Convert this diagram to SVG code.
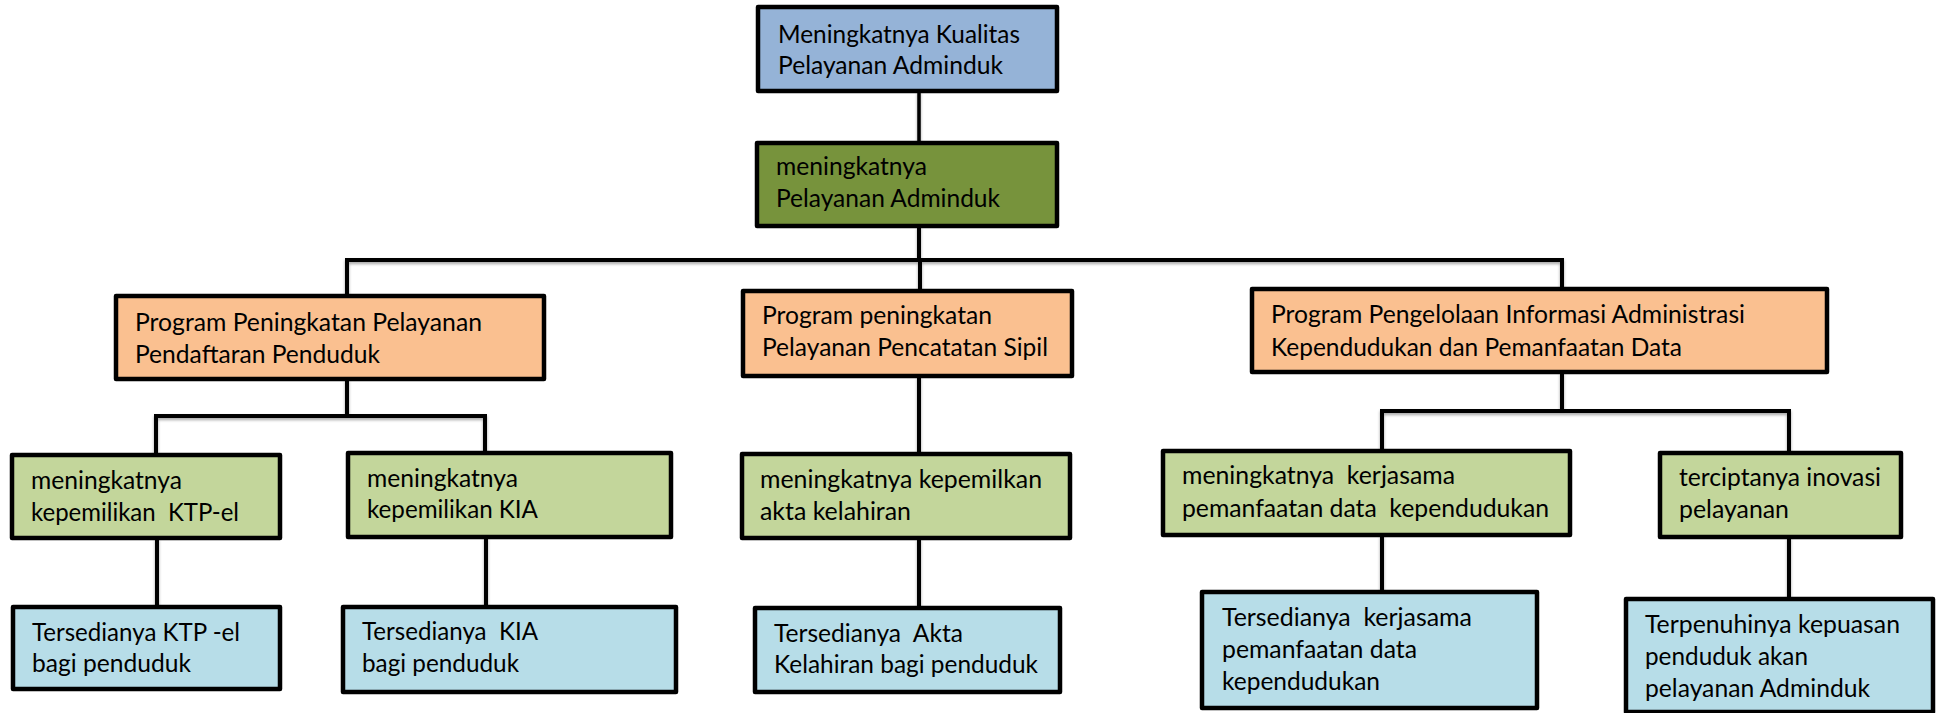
<svg xmlns="http://www.w3.org/2000/svg" width="1937" height="713" viewBox="0 0 1937 713">
<defs>
<filter id="sh" x="-5%" y="-50%" width="110%" height="200%">
<feDropShadow dx="0" dy="2" stdDeviation="1.5" flood-color="#000" flood-opacity="0.35"/>
</filter>
<style>
.box{stroke:#000;stroke-width:4.5;stroke-linejoin:round}
.b1{fill:#95B3D7}.b2{fill:#77933C}.b3{fill:#FAC090}.b4{fill:#C3D69B}.b5{fill:#B7DDE8}
text{font-family:Lato,"Open Sans","Liberation Sans",sans-serif;font-size:25.5px;fill:#000;white-space:pre}
.c{fill:none;stroke:#000;stroke-width:4;stroke-linejoin:miter}
</style>
</defs>
<rect width="1937" height="713" fill="#fff"/>
<g id="connectors" filter="url(#sh)">
<path class="c" d="M919 91V143" style="stroke-width:3.5"/>
<path class="c" d="M919 226V260M347 296V260H1562V289M920 260V291"/>
<path class="c" d="M347 379V416M156 455V416H485V453"/>
<path class="c" d="M919 376V454M919 538V608"/>
<path class="c" d="M1562 372V411M1382 451V411H1789V453"/>
<path class="c" d="M157 538V607M486 537V607M1382 535V592M1789 537V599"/>
</g>
<g id="top"><rect class="box b1" x="758" y="7" width="299" height="84"/>
<text x="778" y="43" textLength="242" lengthAdjust="spacingAndGlyphs">Meningkatnya Kualitas</text>
<text x="778" y="74" textLength="225" lengthAdjust="spacingAndGlyphs">Pelayanan Adminduk</text></g>
<g id="goal"><rect class="box b2" x="757" y="143" width="300" height="83"/>
<text x="776" y="175" textLength="151" lengthAdjust="spacingAndGlyphs">meningkatnya</text>
<text x="776" y="207" textLength="224" lengthAdjust="spacingAndGlyphs">Pelayanan Adminduk</text></g>
<g id="prog1"><rect class="box b3" x="116" y="296" width="428" height="83"/>
<text x="135" y="331" textLength="347" lengthAdjust="spacingAndGlyphs">Program Peningkatan Pelayanan</text>
<text x="135" y="363" textLength="245" lengthAdjust="spacingAndGlyphs">Pendaftaran Penduduk</text></g>
<g id="prog2"><rect class="box b3" x="743" y="291" width="329" height="85"/>
<text x="762" y="324" textLength="230" lengthAdjust="spacingAndGlyphs">Program peningkatan</text>
<text x="762" y="356" textLength="286" lengthAdjust="spacingAndGlyphs">Pelayanan Pencatatan Sipil</text></g>
<g id="prog3"><rect class="box b3" x="1252" y="289" width="575" height="83"/>
<text x="1271" y="323" textLength="474" lengthAdjust="spacingAndGlyphs">Program Pengelolaan Informasi Administrasi</text>
<text x="1271" y="356" textLength="411" lengthAdjust="spacingAndGlyphs">Kependudukan dan Pemanfaatan Data</text></g>
<g id="out1"><rect class="box b4" x="12" y="455" width="268" height="83"/>
<text x="31" y="489" textLength="151" lengthAdjust="spacingAndGlyphs">meningkatnya</text>
<text x="31" y="521" textLength="208" lengthAdjust="spacingAndGlyphs">kepemilikan  KTP-el</text></g>
<g id="out2"><rect class="box b4" x="348" y="453" width="323" height="84"/>
<text x="367" y="487" textLength="151" lengthAdjust="spacingAndGlyphs">meningkatnya</text>
<text x="367" y="518" textLength="171" lengthAdjust="spacingAndGlyphs">kepemilikan KIA</text></g>
<g id="out3"><rect class="box b4" x="742" y="454" width="328" height="84"/>
<text x="760" y="488" textLength="282" lengthAdjust="spacingAndGlyphs">meningkatnya kepemilkan</text>
<text x="760" y="520" textLength="151" lengthAdjust="spacingAndGlyphs">akta kelahiran</text></g>
<g id="out4"><rect class="box b4" x="1163" y="451" width="407" height="84"/>
<text x="1182" y="484" textLength="273" lengthAdjust="spacingAndGlyphs">meningkatnya  kerjasama</text>
<text x="1182" y="517" textLength="367" lengthAdjust="spacingAndGlyphs">pemanfaatan data  kependudukan</text></g>
<g id="out5"><rect class="box b4" x="1660" y="453" width="241" height="84"/>
<text x="1679" y="486" textLength="202" lengthAdjust="spacingAndGlyphs">terciptanya inovasi</text>
<text x="1679" y="518" textLength="110" lengthAdjust="spacingAndGlyphs">pelayanan</text></g>
<g id="res1"><rect class="box b5" x="13" y="607" width="267" height="82"/>
<text x="32" y="641" textLength="208" lengthAdjust="spacingAndGlyphs">Tersedianya KTP -el</text>
<text x="32" y="672" textLength="159" lengthAdjust="spacingAndGlyphs">bagi penduduk</text></g>
<g id="res2"><rect class="box b5" x="343" y="607" width="333" height="85"/>
<text x="362" y="640" textLength="176" lengthAdjust="spacingAndGlyphs">Tersedianya  KIA</text>
<text x="362" y="672" textLength="157" lengthAdjust="spacingAndGlyphs">bagi penduduk</text></g>
<g id="res3"><rect class="box b5" x="755" y="608" width="305" height="84"/>
<text x="774" y="642" textLength="189" lengthAdjust="spacingAndGlyphs">Tersedianya  Akta</text>
<text x="774" y="673" textLength="264" lengthAdjust="spacingAndGlyphs">Kelahiran bagi penduduk</text></g>
<g id="res4"><rect class="box b5" x="1202" y="592" width="335" height="116"/>
<text x="1222" y="626" textLength="250" lengthAdjust="spacingAndGlyphs">Tersedianya  kerjasama</text>
<text x="1222" y="658" textLength="195" lengthAdjust="spacingAndGlyphs">pemanfaatan data</text>
<text x="1222" y="690" textLength="158" lengthAdjust="spacingAndGlyphs">kependudukan</text></g>
<g id="res5"><rect class="box b5" x="1626" y="599" width="307" height="113"/>
<text x="1645" y="633" textLength="255" lengthAdjust="spacingAndGlyphs">Terpenuhinya kepuasan</text>
<text x="1645" y="665" textLength="163" lengthAdjust="spacingAndGlyphs">penduduk akan</text>
<text x="1645" y="697" textLength="225" lengthAdjust="spacingAndGlyphs">pelayanan Adminduk</text></g>
</svg>
